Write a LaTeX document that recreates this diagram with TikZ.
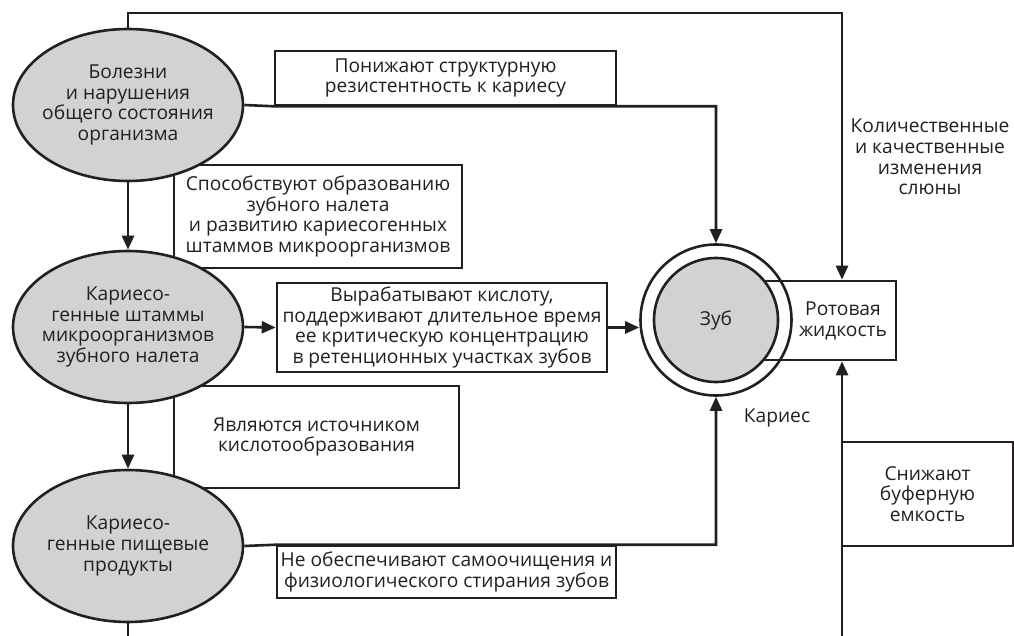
\documentclass[tikz,border=0pt]{standalone}
\usepackage{fontspec}
\setmainfont{Open Sans}
\usetikzlibrary{shapes.geometric,arrows.meta,positioning}
\definecolor{ink}{HTML}{231F20}
\definecolor{shade}{HTML}{D1D2D4}
\tikzset{
  txt/.style={align=center, text=ink, font=\fontsize{19.2}{20.8}\selectfont},
  factor/.style={ellipse, draw=ink, fill=shade, minimum width=230pt, minimum height=152pt, inner sep=0pt},
  note/.style={draw=ink, txt},
  arr/.style={-{Triangle[length=14pt,width=12pt]}},
}
\begin{document}
\begin{tikzpicture}[x=1pt, y=-1pt, line width=2.6pt, draw=ink]
\useasboundingbox (0,0) rectangle (1014,636);

% boxes lying behind the ellipses
\node [note, minimum width=288pt, minimum height=103pt] (spos) at (318,216.5) {Способствуют образованию\\зубного налета\\и развитию кариесогенных\\штаммов микроорганизмов};
\node [note, minimum width=285pt, minimum height=102pt] (yavl) at (316.5,437) {Являются источником\\кислотообразования};

\node [factor, label={[txt]center:Болезни\\и нарушения\\общего состояния\\организма}] (ill) at (128,105) {};
\node [factor, label={[txt]center:Кариесо-\\генные штаммы\\микроорганизмов\\зубного налета}] (plaque) at (128,327) {};
\node [factor, label={[txt]center:Кариесо-\\генные пищевые\\продукты}] (food) at (128,546) {};

\node [note, minimum width=341pt, minimum height=54pt] (pon) at (445.5,78) {Понижают структурную\\резистентность к кариесу};
\node [note, minimum width=330pt, minimum height=89pt, inner sep=1pt] (vyr) at (442,327.5) {Вырабатывают кислоту,\\поддерживают длительное время\\ее критическую концентрацию\\в ретенционных участках зубов};
\node [note, minimum width=339pt, minimum height=52pt, inner sep=1pt] (neob) at (446.5,572) {Не обеспечивают самоочищения и\\физиологического стирания зубов};
\node [note, minimum width=171pt, minimum height=104pt] (snizh) at (927.5,494) {Снижают\\буферную\\емкость};

% tooth and oral fluid
\node [circle, draw=ink, minimum size=151pt, inner sep=0pt] (ring) at (716,320) {};
\node [draw=ink, minimum width=151pt, minimum height=79pt] (oral) at (820.5,320.5) {};
\node [circle, draw=ink, fill=shade, minimum size=124pt, inner sep=0pt, txt] (tooth) at (716,320) {Зуб};
\node [txt] (oraltxt) at (843,321) {Ротовая\\жидкость};
\node [txt] (caries) at (777,418) {Кариес};
\node [txt] (saliva) at (930,157) {Количественные\\и качественные\\изменения\\слюны};

\coordinate (top) at (842,13);
\coordinate (low) at (0,640);

\draw [arr] (ill) -- (plaque);
\draw [arr] (plaque) -- (food);
\draw (food.south) -- (food.south |- low);
\draw [arr] (ill.north) |- (top) -- (top |- oral.north);
\draw [arr] (ill.east) -- (pon.south west) -| (ring.north);
\draw [arr] (plaque.east) -- (vyr.west);
\draw [arr] (vyr.east) -- (vyr.east -| ring.west);
\draw [arr] (food.east) -- (neob.north west) -| (ring.south);
\draw [arr] (top |- low) -- (top |- oral.south);
\end{tikzpicture}
\end{document}
